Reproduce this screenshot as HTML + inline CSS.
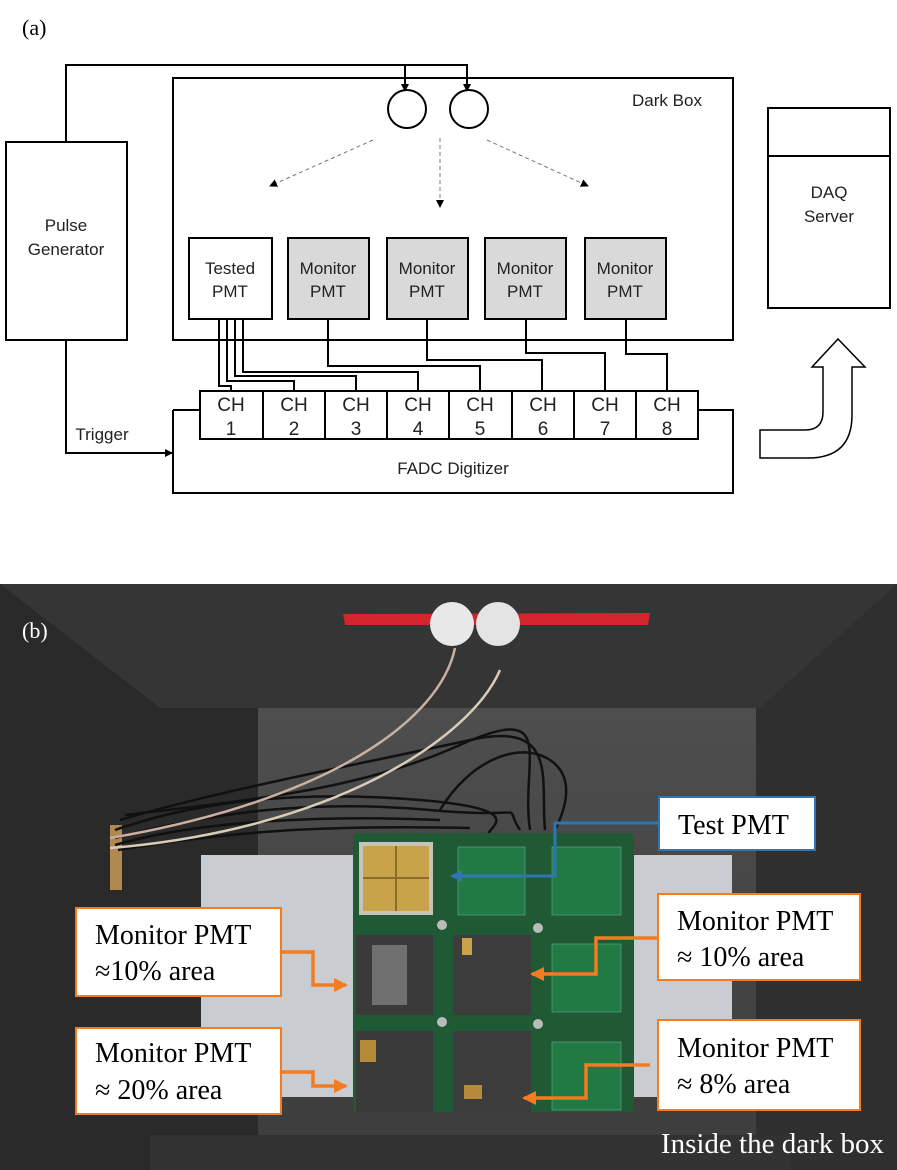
<!DOCTYPE html>
<html><head><meta charset="utf-8"><style>
html,body{margin:0;padding:0;background:#fff;}
svg{display:block;}
.s{font-family:"Liberation Sans","DejaVu Sans",sans-serif;fill:#222;}
.t{font-family:"Liberation Serif",serif;}
</style></head><body>
<svg width="897" height="1170" viewBox="0 0 897 1170" xmlns="http://www.w3.org/2000/svg">
<defs>
<marker id="ah" markerWidth="8" markerHeight="8" refX="7" refY="4" orient="auto" markerUnits="userSpaceOnUse"><path d="M0,0 L8,4 L0,8 Z" fill="#000"/></marker>
<marker id="ao" markerWidth="14" markerHeight="14" refX="12" refY="7" orient="auto" markerUnits="userSpaceOnUse"><path d="M0,0 L14,7 L0,14 Z" fill="#f47b20"/></marker>
<marker id="ab" markerWidth="12" markerHeight="12" refX="10" refY="6" orient="auto" markerUnits="userSpaceOnUse"><path d="M0,0 L12,6 L0,12 Z" fill="#2e75b6"/></marker>
<linearGradient id="floor" x1="0" y1="0" x2="0" y2="1"><stop offset="0" stop-color="#4e4e4e"/><stop offset="1" stop-color="#3c3c3c"/></linearGradient>
</defs>
<text x="22" y="35" class="t" font-size="22" fill="#000">(a)</text>
<g fill="none" stroke="#000" stroke-width="2">
<rect x="6" y="142" width="121" height="198" fill="#fff"/>
<rect x="173" y="78" width="560" height="262"/>
<polyline points="66,142 66,65 467,65 467,91" marker-end="url(#ah)"/>
<line x1="405" y1="65" x2="405" y2="91" marker-end="url(#ah)"/>
<ellipse cx="407" cy="109" rx="19" ry="19" fill="#fff"/>
<ellipse cx="469" cy="109" rx="19" ry="19" fill="#fff"/>
<rect x="189" y="238" width="83" height="81" fill="#fff"/>
<rect x="288" y="238" width="81" height="81" fill="#d9d9d9"/>
<rect x="387" y="238" width="81" height="81" fill="#d9d9d9"/>
<rect x="485" y="238" width="81" height="81" fill="#d9d9d9"/>
<rect x="585" y="238" width="81" height="81" fill="#d9d9d9"/>
<polyline points="173,410 173,493 733,493 733,410 698,410"/>
<line x1="173" y1="410" x2="200" y2="410"/>
<rect x="200" y="391" width="498" height="48" fill="#fff"/>
<line x1="263" y1="391" x2="263" y2="439"/><line x1="325" y1="391" x2="325" y2="439"/>
<line x1="387" y1="391" x2="387" y2="439"/><line x1="449" y1="391" x2="449" y2="439"/>
<line x1="512" y1="391" x2="512" y2="439"/><line x1="574" y1="391" x2="574" y2="439"/>
<line x1="636" y1="391" x2="636" y2="439"/>
<polyline points="66,340 66,453 172,453" marker-end="url(#ah)"/>
<polyline points="219,319 219,386 231,386 231,391"/>
<polyline points="227,319 227,381 294,381 294,391"/>
<polyline points="235,319 235,376 356,376 356,391"/>
<polyline points="243,319 243,372 418,372 418,391"/>
<polyline points="328,319 328,366 480,366 480,391"/>
<polyline points="427,319 427,360 542,360 542,391"/>
<polyline points="526,319 526,353 605,353 605,391"/>
<polyline points="626,319 626,354 667,354 667,391"/>
<rect x="768" y="108" width="122" height="200"/>
<line x1="768" y1="156" x2="890" y2="156"/>
<path d="M760,430 L805,430 Q823,430 823,412 L823,367 L812,367 L838,339 L865,367 L852,367 L852,415 Q852,458 808,458 L760,458 Z" stroke-width="1.5"/>
</g>
<g stroke="#777" stroke-width="1" stroke-dasharray="4,3" fill="none">
<line x1="373" y1="140" x2="270" y2="186" marker-end="url(#ah)"/>
<line x1="440" y1="138" x2="440" y2="207" marker-end="url(#ah)"/>
<line x1="487" y1="140" x2="588" y2="186" marker-end="url(#ah)"/>
</g>
<g class="s" font-size="17" text-anchor="middle">
<text x="667" y="106" font-size="17">Dark Box</text>
<text x="66" y="231">Pulse</text><text x="66" y="255">Generator</text>
<text x="230" y="274">Tested</text><text x="230" y="297">PMT</text>
<text x="328" y="274">Monitor</text><text x="328" y="297">PMT</text>
<text x="427" y="274">Monitor</text><text x="427" y="297">PMT</text>
<text x="525" y="274">Monitor</text><text x="525" y="297">PMT</text>
<text x="625" y="274">Monitor</text><text x="625" y="297">PMT</text>
<text x="829" y="198" font-size="17">DAQ</text><text x="829" y="222" font-size="17">Server</text>
<text x="102" y="440" font-size="17">Trigger</text>
<text x="453" y="474" font-size="17">FADC Digitizer</text>
</g>
<g class="s" font-size="19" text-anchor="middle">
<text x="231" y="411">CH</text><text x="231" y="435">1</text>
<text x="294" y="411">CH</text><text x="294" y="435">2</text>
<text x="356" y="411">CH</text><text x="356" y="435">3</text>
<text x="418" y="411">CH</text><text x="418" y="435">4</text>
<text x="480" y="411">CH</text><text x="480" y="435">5</text>
<text x="543" y="411">CH</text><text x="543" y="435">6</text>
<text x="605" y="411">CH</text><text x="605" y="435">7</text>
<text x="667" y="411">CH</text><text x="667" y="435">8</text>
</g>

<!-- Photo -->
<rect x="0" y="584" width="897" height="586" fill="#2c2c2c"/>
<polygon points="0,584 897,584 760,708 160,708" fill="#353535"/>
<polygon points="160,708 258,708 258,1170 0,1170 0,584" fill="#2a2a2a"/>
<polygon points="756,708 760,708 897,584 897,1170 756,1170" fill="#2f2f2f"/>
<rect x="258" y="708" width="498" height="462" fill="url(#floor)"/>
<rect x="150" y="1135" width="640" height="35" fill="#323232"/>
<rect x="110" y="825" width="12" height="65" fill="#b08850"/>
<!-- cables -->
<g fill="none" stroke="#111" stroke-width="2.5">
<path d="M115,830 C200,800 300,790 420,800 S480,830 490,835"/>
<path d="M115,838 C220,810 320,800 430,810 S500,800 520,830"/>
<path d="M115,845 C200,820 330,815 440,820"/>
<path d="M120,820 C220,790 380,760 470,740 S540,780 545,830"/>
<path d="M125,815 C250,800 360,790 460,745 S520,760 530,830"/>
<path d="M118,850 C240,830 330,825 470,828"/>
<path d="M440,810 C470,760 520,740 550,760 S560,820 555,830"/>
</g>
<path d="M455,648 C440,720 330,800 110,838" fill="none" stroke="#c9b0a0" stroke-width="2.5"/>
<path d="M500,670 C470,740 330,830 110,848" fill="none" stroke="#d8ccb8" stroke-width="2.5"/>
<!-- tape and balls -->
<polygon points="343,614 650,613 648,625 345,625" fill="#d4242c"/>
<circle cx="452" cy="624" r="22" fill="#e8e8e8"/>
<circle cx="498" cy="624" r="22" fill="#e4e4e4"/>
<!-- white sheet -->
<rect x="201" y="855" width="531" height="242" fill="#c9ccd0"/>
<!-- board -->
<rect x="353" y="833" width="281" height="279" rx="4" fill="#1f5a34"/>
<rect x="359" y="842" width="74" height="73" fill="#c8c3b8"/>
<rect x="363" y="846" width="66" height="65" fill="#c9a34a"/>
<line x1="396" y1="846" x2="396" y2="911" stroke="#8a6d2a" stroke-width="2"/>
<line x1="363" y1="878" x2="429" y2="878" stroke="#8a6d2a" stroke-width="2"/>
<rect x="458" y="847" width="67" height="68" fill="#217a44" stroke="#6a9" stroke-width="0.6"/>
<rect x="552" y="847" width="69" height="68" fill="#217a44" stroke="#6a9" stroke-width="0.6"/>
<rect x="356" y="935" width="77" height="80" fill="#3a3a3a"/>
<rect x="372" y="945" width="35" height="60" fill="#707070"/>
<rect x="453" y="935" width="78" height="80" fill="#3c3c3c"/>
<rect x="356" y="1031" width="77" height="81" fill="#3a3a3a"/>
<rect x="453" y="1031" width="78" height="81" fill="#3c3c3c"/>
<rect x="360" y="1040" width="16" height="22" fill="#b58a3a"/>
<rect x="464" y="1085" width="18" height="14" fill="#b58a3a"/>
<rect x="462" y="938" width="10" height="17" fill="#c9a34a"/>
<rect x="552" y="944" width="69" height="68" fill="#217a44" stroke="#6a9" stroke-width="0.6"/>
<rect x="552" y="1042" width="69" height="68" fill="#217a44" stroke="#6a9" stroke-width="0.6"/>
<g fill="#bbb"><circle cx="442" cy="925" r="5"/><circle cx="538" cy="928" r="5"/><circle cx="442" cy="1022" r="5"/><circle cx="538" cy="1024" r="5"/></g>
<!-- arrows -->
<polyline points="659,823 555,823 555,876 452,876" fill="none" stroke="#2e75b6" stroke-width="3" marker-end="url(#ab)"/>
<g fill="none" stroke="#f47b20" stroke-width="3.5">
<polyline points="281,952 313,952 313,985 346,985" marker-end="url(#ao)"/>
<polyline points="658,938 596,938 596,974 532,974" marker-end="url(#ao)"/>
<polyline points="281,1072 313,1072 313,1086 346,1086" marker-end="url(#ao)"/>
<polyline points="650,1065 586,1065 586,1098 524,1098" marker-end="url(#ao)"/>
</g>
<!-- labels -->
<rect x="659" y="797" width="156" height="53" fill="#fff" stroke="#2e75b6" stroke-width="2"/>
<g fill="#fff" stroke="#f47b20" stroke-width="2">
<rect x="76" y="908" width="205" height="88"/>
<rect x="658" y="894" width="202" height="86"/>
<rect x="76" y="1028" width="205" height="86"/>
<rect x="658" y="1020" width="202" height="90"/>
</g>
<g class="t" font-size="28" fill="#000">
<text x="678" y="834">Test PMT</text>
<text x="95" y="944">Monitor PMT</text><text x="95" y="980">≈10% area</text>
<text x="677" y="930">Monitor PMT</text><text x="677" y="966">≈ 10% area</text>
<text x="95" y="1062">Monitor PMT</text><text x="95" y="1099">≈ 20% area</text>
<text x="677" y="1057">Monitor PMT</text><text x="677" y="1093">≈ 8% area</text>
</g>
<text x="22" y="638" class="t" font-size="22" fill="#fff">(b)</text>
<text x="884" y="1153" class="t" font-size="29" fill="#fff" text-anchor="end">Inside the dark box</text>
</svg>
</body></html>
